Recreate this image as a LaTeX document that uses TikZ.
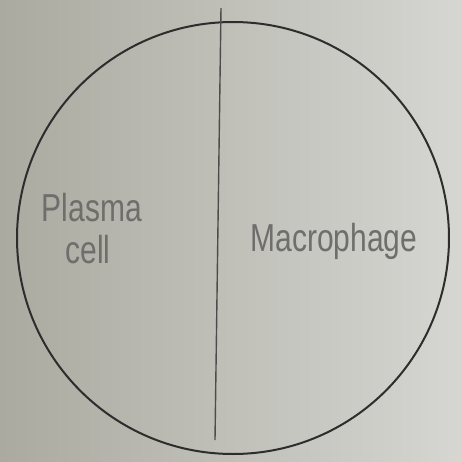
\documentclass[tikz,border=0pt]{standalone}
\usepackage{fontspec}
\setmainfont{Liberation Sans}
\usepackage{xcolor}
\usetikzlibrary{positioning}
\definecolor{papel}{RGB}{170, 170, 160}
\definecolor{papelclaro}{RGB}{214, 214, 210}
\definecolor{lapis}{RGB}{110, 110, 108}
\definecolor{tinta}{RGB}{45, 45, 45}

\begin{document}
\begin{tikzpicture}[x=0.5pt, y=-0.5pt,
    rotulo/.style={text=lapis, font=\fontsize{15}{17}\selectfont, yscale=1.3, transform shape, inner sep=0pt}]
  \shade[left color=papel, right color=papelclaro] (0,0) rectangle (461,462);
  \useasboundingbox (0,0) rectangle (461,462);
  \draw[tinta, line width=1pt] (233,238) circle[radius=108pt];
  \coordinate (topo) at (221,8);
  \coordinate (base) at (215,440);
  \draw[tinta!85, line width=0.7pt] (topo) -- (base);
  \node[rotulo] (plasma) at (92,208) {Plasma};
  \node[rotulo, below=6pt of plasma.south, xshift=-2pt] (cell) {cell};
  \node[rotulo] (macro) at (334,241) {Macrophage};
\end{tikzpicture}
\end{document}
